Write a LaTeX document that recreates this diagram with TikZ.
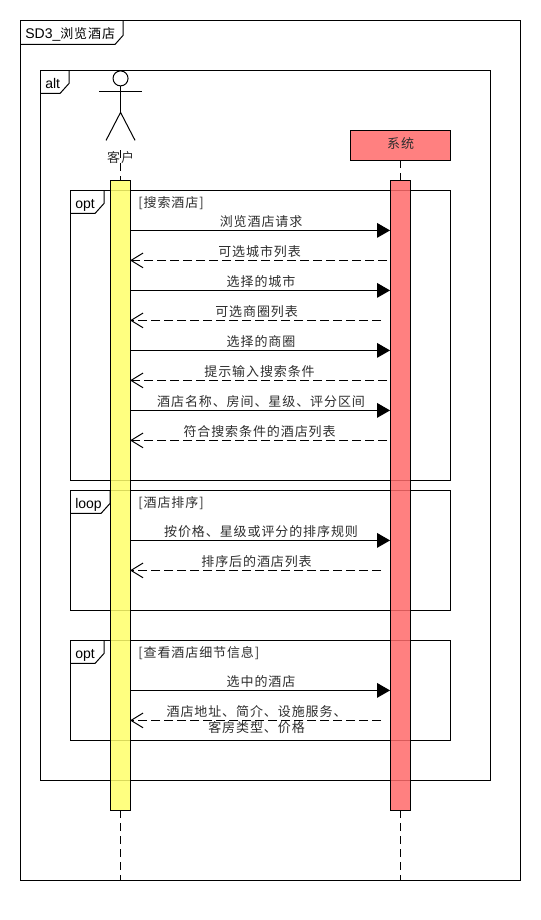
\documentclass[tikz,border=0pt]{standalone}
\usepackage{fontspec}
\setmainfont{Liberation Sans}
\newfontfamily\cjk[LetterSpace=7]{Noto Sans CJK SC}
\usetikzlibrary{arrows.meta}
\definecolor{actyellow}{RGB}{255,255,106}
\definecolor{actred}{RGB}{255,106,106}
\definecolor{boxred}{RGB}{255,128,128}
\definecolor{txt}{RGB}{45,45,45}
\tikzset{
  frame/.style={draw=black,line width=.75pt},
  tabtext/.style={anchor=base west,inner sep=0pt,font=\fontsize{10.5}{12}\selectfont,text=black},
  cjktext/.style={inner sep=0pt,font=\fontsize{9.75}{12}\selectfont\cjk,text=txt},
  guard/.style={cjktext,anchor=west},
  actbar/.style={draw=black,line width=.75pt,fill opacity=.85,text opacity=1,minimum width=15pt,minimum height=472.5pt,inner sep=0pt,outer sep=0pt},
  lifeline/.style={draw=black,line width=.75pt,dash pattern=on 6pt off 3.75pt},
  call/.style={draw=black,line width=.75pt,-{Triangle[length=9.75pt,width=11pt]}},
  reply/.style={draw=black,line width=.75pt,dash pattern=on 6.5pt off 3.25pt,-{Straight Barb[length=9pt,width=11pt,line width=.75pt]}},
  msglabel/.style={cjktext,midway,yshift=6.5pt,xshift=.75pt},
  stick/.style={draw=black,line width=.75pt}
}
\begin{document}
\begin{tikzpicture}[x=.75pt,y=-.75pt]
\useasboundingbox (-.05,-.4) rectangle (539.95,919.6);
% outer frame
\draw[frame] (20,20) rectangle (520,880);
\draw[frame] (20,44) -- (115,44) -- (123,35) -- (123,20);
\node[tabtext] (sdtitle) at (25,38) {SD3\_{\fontsize{9.75}{12}\selectfont\cjk 浏览酒店}};
% alt frame
\draw[frame] (40,70) rectangle (490,780);
\draw[frame] (40,93) -- (60,93) -- (69,83) -- (69,70);
\node[tabtext] (alttag) at (45,88) {alt};
% opt 1
\draw[frame] (70,190) rectangle (450,480);
\draw[frame] (70,213) -- (95,213) -- (104,203) -- (104,190);
\node[tabtext] (opta) at (75,208) {opt};
\node[guard] (guarda) at (138,203) {[搜索酒店]};
% loop
\draw[frame] (70,490) rectangle (450,610);
\draw[frame] (70,513) -- (101,513) -- (110,503) -- (110,490);
\node[tabtext] (looptag) at (75,508) {loop};
\node[guard] (guardb) at (138,503) {[酒店排序]};
% opt 2
\draw[frame] (70,640) rectangle (450,740);
\draw[frame] (70,663) -- (95,663) -- (104,653) -- (104,640);
\node[tabtext] (optb) at (75,658) {opt};
\node[guard] (guardc) at (138,653) {[查看酒店细节信息]};
% actor
\node[circle,draw=black,line width=.75pt,minimum size=11.25pt,inner sep=0pt] (head) at (120.5,78) {};
\coordinate (hip) at (120.5,112);
\coordinate (armL) at (99,91);
\coordinate (armR) at (142,91);
\coordinate (legL) at (106,140);
\coordinate (legR) at (135,140);
\draw[stick] (head.south) -- (hip);
\draw[stick] (armL) -- (armR);
\draw[stick] (legL) -- (hip) -- (legR);
\node[cjktext] (client) at (120.5,157) {客户};
% system
\node[draw=black,line width=.75pt,fill=boxred,minimum width=75pt,minimum height=22.5pt,inner sep=0pt,outer sep=0pt,cjktext] (sys) at (400,145) {};
\node[cjktext] (systext) at (400.5,143) {系统};
% activations + lifelines
\coordinate (lifeAtop) at (120,150);
\coordinate (lifeAend) at (120,880);
\coordinate (lifeBend) at (400,880);
\draw[lifeline] (lifeAtop) -- (120,180);
\draw[lifeline] (sys.south) -- (400,180);
\node[actbar,fill=actyellow] (ya) at (120,495) {};
\node[actbar,fill=actred] (sa) at (400,495) {};
\draw[lifeline] (ya.south) -- (lifeAend);
\draw[lifeline] (sa.south) -- (lifeBend);
% free ends of replies
\coordinate (r1) at (387,260);
\coordinate (r2) at (381,320);
\coordinate (r3) at (387,380);
\coordinate (r4) at (387,440);
\coordinate (r5) at (381,570);
\coordinate (r6) at (381,720);
\coordinate (c1) at (0,230);
\coordinate (c2) at (0,290);
\coordinate (c3) at (0,350);
\coordinate (c4) at (0,410);
\coordinate (c5) at (0,540);
\coordinate (c6) at (0,690);
% messages
\draw[call] (ya.east |- c1) -- node[msglabel] {浏览酒店请求} (sa.west |- c1);
\draw[reply] (r1) -- node[msglabel] {可选城市列表} (ya.east |- r1);
\draw[call] (ya.east |- c2) -- node[msglabel] {选择的城市} (sa.west |- c2);
\draw[reply] (r2) -- node[msglabel] {可选商圈列表} (ya.east |- r2);
\draw[call] (ya.east |- c3) -- node[msglabel] {选择的商圈} (sa.west |- c3);
\draw[reply] (r3) -- node[msglabel] {提示输入搜索条件} (ya.east |- r3);
\draw[call] (ya.east |- c4) -- node[msglabel] {酒店名称、房间、星级、评分区间} (sa.west |- c4);
\draw[reply] (r4) -- node[msglabel] {符合搜索条件的酒店列表} (ya.east |- r4);
\draw[call] (ya.east |- c5) -- node[msglabel] {按价格、星级或评分的排序规则} (sa.west |- c5);
\draw[reply] (r5) -- node[msglabel] {排序后的酒店列表} (ya.east |- r5);
\draw[call] (ya.east |- c6) -- node[msglabel] {选中的酒店} (sa.west |- c6);
\draw[reply] (r6) -- node[cjktext,midway,align=center,yshift=.8pt,xshift=.75pt] {酒店地址、简介、设施服务、\\[0pt]客房类型、价格} (ya.east |- r6);
\end{tikzpicture}
\end{document}
